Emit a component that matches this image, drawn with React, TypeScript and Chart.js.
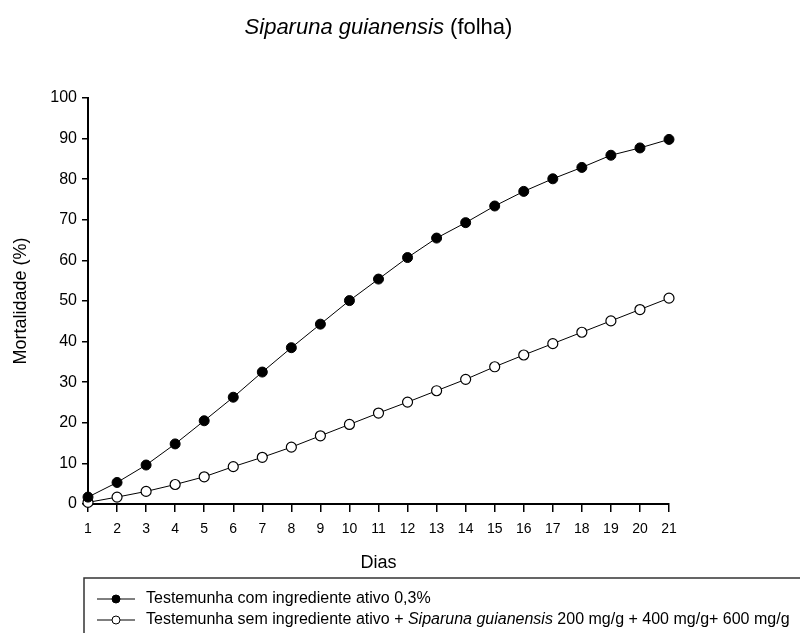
import React, { useEffect, useRef } from "react";
import { Chart, registerables } from "chart.js";

Chart.register(...registerables);

// Days of observation
const days = ["1", "2", "3", "4", "5", "6", "7", "8", "9", "10", "11", "12", "13", "14", "15", "16", "17", "18", "19", "20", "21"];

// Cumulative mortality (%) per day
const comIngrediente = [1.7, 5.3, 9.6, 14.8, 20.5, 26.3, 32.5, 38.5, 44.3, 50.1, 55.4, 60.7, 65.5, 69.3, 73.4, 77.0, 80.1, 82.9, 85.9, 87.7, 89.8];
const semIngrediente = [0.4, 1.7, 3.1, 4.8, 6.7, 9.2, 11.5, 14.0, 16.8, 19.6, 22.4, 25.1, 27.9, 30.7, 33.8, 36.7, 39.5, 42.3, 45.1, 47.9, 50.7];

const yTicks = { min: 0, max: 100, step: 10 };

const legendLabels = [
  "Testemunha com ingrediente ativo 0,3%",
  "Testemunha sem ingrediente ativo + Siparuna guianensis 200 mg/g + 400 mg/g+ 600 mg/g",
];

const FONT = "'Liberation Sans', Arial, sans-serif";

// Draws a line of text made of normal / italic runs, starting at x
function drawRuns(ctx: CanvasRenderingContext2D, runs: [string, boolean][], x: number, y: number, size: number) {
  let cx = x;
  for (const [text, italic] of runs) {
    ctx.font = `${italic ? "italic " : ""}${size}px ${FONT}`;
    ctx.fillText(text, cx, y);
    cx += ctx.measureText(text).width;
  }
}

function runsWidth(ctx: CanvasRenderingContext2D, runs: [string, boolean][], size: number) {
  let w = 0;
  for (const [text, italic] of runs) {
    ctx.font = `${italic ? "italic " : ""}${size}px ${FONT}`;
    w += ctx.measureText(text).width;
  }
  return w;
}

const decorations = {
  id: "decorations",
  afterDraw(chart: any) {
    const { ctx, chartArea } = chart;
    ctx.save();
    ctx.fillStyle = "#000";
    ctx.textBaseline = "middle";

    // Title with the species name in italics
    const titleRuns: [string, boolean][] = [["Siparuna guianensis", true], [" (folha)", false]];
    const tSize = 22;
    const tw = runsWidth(ctx, titleRuns, tSize);
    drawRuns(ctx, titleRuns, (chartArea.left + chartArea.right) / 2 - tw / 2, 28, tSize);

    // Legend box
    ctx.strokeStyle = "#333";
    ctx.lineWidth = 1.5;
    ctx.strokeRect(84, 578, 760, 100);

    const rows = [
      { y: 599, filled: true, runs: [[legendLabels[0], false]] as [string, boolean][] },
      {
        y: 620,
        filled: false,
        runs: [
          ["Testemunha sem ingrediente ativo + ", false],
          ["Siparuna guianensis", true],
          [" 200 mg/g + 400 mg/g+ 600 mg/g", false],
        ] as [string, boolean][],
      },
    ];
    for (const r of rows) {
      ctx.strokeStyle = "#000";
      ctx.lineWidth = 1;
      ctx.beginPath();
      ctx.moveTo(97, r.y);
      ctx.lineTo(135, r.y);
      ctx.stroke();
      ctx.beginPath();
      ctx.arc(116, r.y, 4, 0, Math.PI * 2);
      ctx.fillStyle = r.filled ? "#000" : "#fff";
      ctx.fill();
      ctx.stroke();
      ctx.fillStyle = "#000";
      drawRuns(ctx, r.runs, 146, r.y, 16);
    }
    ctx.restore();
  },
};

export default function App() {
  const ref = useRef<HTMLCanvasElement>(null);

  useEffect(() => {
    if (!ref.current) return;
    const chart = new Chart(ref.current, {
      type: "line",
      data: {
        labels: days,
        datasets: [
          {
            label: legendLabels[0],
            data: comIngrediente,
            borderColor: "#000",
            borderWidth: 1,
            backgroundColor: "#000",
            pointBackgroundColor: "#000",
            pointBorderColor: "#000",
            pointRadius: 5,
            pointBorderWidth: 1,
            tension: 0,
            clip: false as any,
          },
          {
            label: legendLabels[1],
            data: semIngrediente,
            borderColor: "#000",
            borderWidth: 1,
            backgroundColor: "#fff",
            pointBackgroundColor: "#fff",
            pointBorderColor: "#000",
            pointRadius: 5,
            pointBorderWidth: 1.2,
            tension: 0,
            clip: false as any,
          },
        ],
      },
      options: {
        responsive: false,
        animation: false,
        layout: { padding: { top: 98, right: 131, bottom: 55, left: 0 } },
        plugins: {
          legend: { display: false },
          title: { display: false },
          tooltip: { enabled: false },
        },
        scales: {
          x: {
            type: "category",
            offset: false,
            grid: { display: true, drawOnChartArea: false, drawTicks: true, tickLength: 8, color: "#000", lineWidth: 1.5 },
            border: { display: true, color: "#000", width: 2 },
            ticks: { color: "#000", font: { family: FONT, size: 14 }, padding: 9, maxRotation: 0, autoSkip: false },
            title: { display: true, text: "Dias", color: "#000", font: { family: FONT, size: 18 }, padding: { top: 0, bottom: 4 } },
            afterFit: (s: any) => {
              s.height = 74;
            },
          },
          y: {
            min: yTicks.min,
            max: yTicks.max,
            grid: { display: true, drawOnChartArea: false, drawTicks: true, tickLength: 6, color: "#000", lineWidth: 1.5 },
            border: { display: true, color: "#000", width: 2 },
            ticks: { stepSize: yTicks.step, color: "#000", font: { family: FONT, size: 16 }, padding: 5 },
            title: { display: true, text: "Mortalidade (%)", color: "#000", font: { family: FONT, size: 18 }, padding: { top: 10, bottom: 0 } },
            afterFit: (s: any) => {
              s.width = 88;
            },
          },
        },
      },
      plugins: [decorations],
    });
    return () => chart.destroy();
  }, []);

  return (
    <div style={{ position: "fixed", left: 0, top: 0, width: 800, height: 633, background: "#fff" }}>
      <canvas ref={ref} width={800} height={633} />
    </div>
  );
}
